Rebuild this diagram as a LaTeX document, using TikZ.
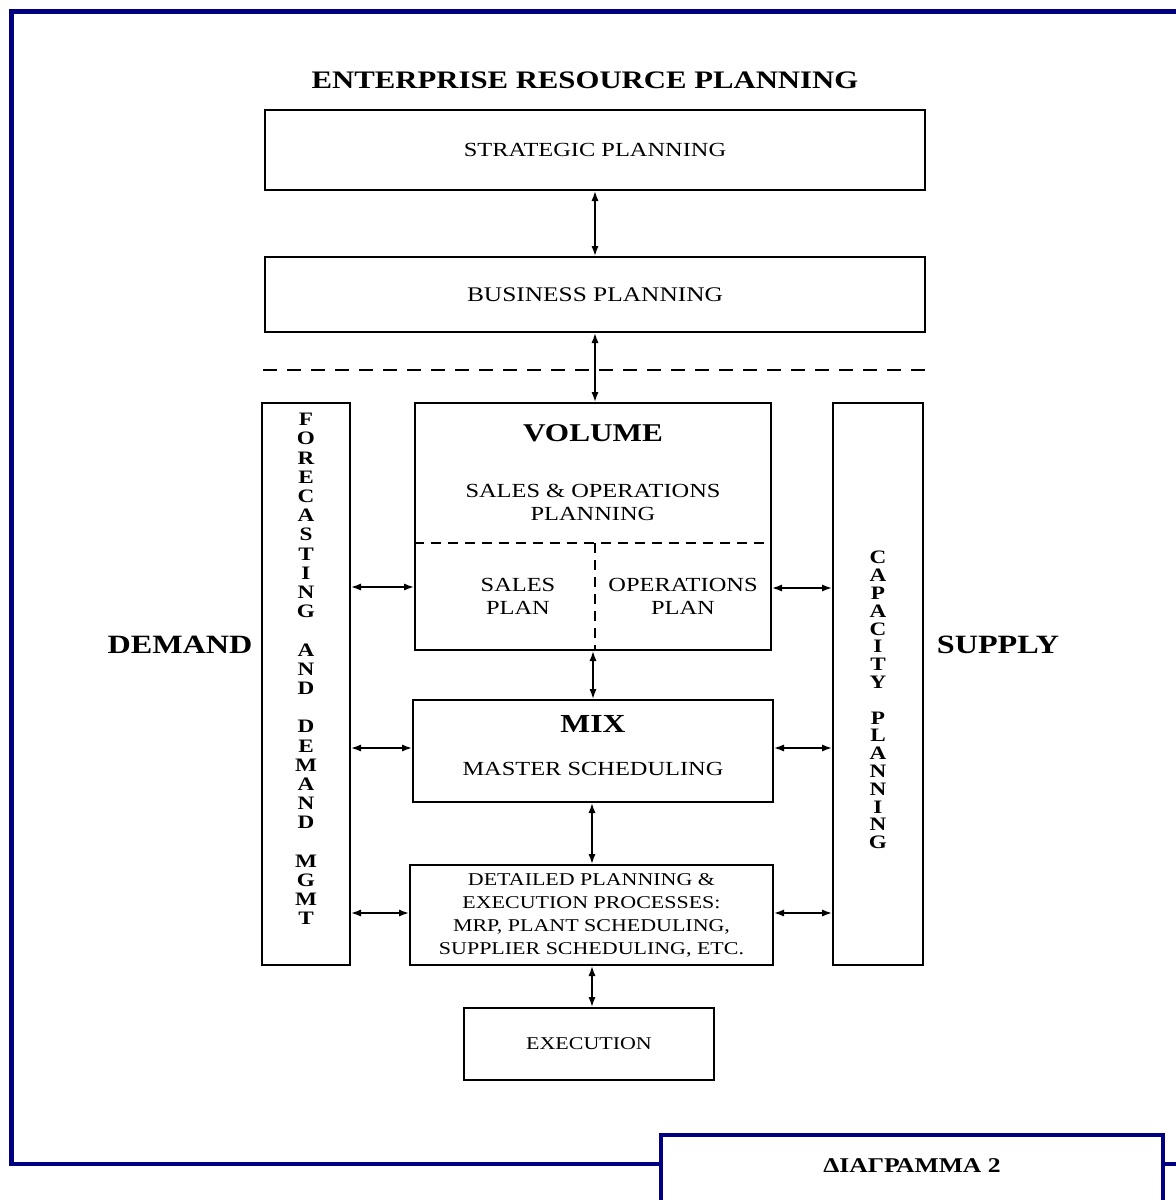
\documentclass[tikz,border=0pt]{standalone}
\usepackage{fontspec}
\setmainfont[FakeStretch=1.22]{Liberation Serif}
\usetikzlibrary{arrows.meta}
\definecolor{frameblue}{RGB}{0,0,128}

\begin{document}
\begin{tikzpicture}[x=0.5pt, y=-0.5pt, line width=1pt,
    box/.style = {draw, inner sep=0pt, align=center},
    txt/.style = {inner sep=0pt, align=center, font=\fontsize{10}{11.5}\selectfont},
    head/.style = {inner sep=0pt, font=\fontsize{12.6}{14}\selectfont\bfseries},
    col/.style = {inner sep=0pt, align=center, font=\fontsize{9.5}{9.6}\selectfont\bfseries},
    link/.style = {line width=0.8pt, {Latex[length=5pt,width=3.6pt]}-{Latex[length=5pt,width=3.6pt]}}]
    \useasboundingbox (0,0) rectangle (1176,1200);
    % outer frame and caption
    \draw[frameblue, line width=2.3pt] (1176,11.5) -- (11.5,11.5) -- (11.5,1164) -- (661,1164);
    \draw[frameblue, line width=2.3pt] (1163,1164) -- (1176,1164);
    \draw[frameblue, line width=2.3pt] (661,1220) -- (661,1135) -- (1163,1135) -- (1163,1220);
    \node[inner sep=0pt, font=\fontsize{10.5}{12}\selectfont\bfseries] (cap) at (912,1166) {ΔΙΑΓΡΑΜΜΑ 2};

    \node[head] (erp) at (585,80) {ENTERPRISE RESOURCE PLANNING};
    \node[box, minimum width=330pt, minimum height=40pt, txt] (strat) at (595,150) {STRATEGIC PLANNING};
    \node[box, minimum width=330pt, minimum height=37.5pt, txt, font=\fontsize{10.4}{12}\selectfont] (bus) at (595,294.5) {BUSINESS PLANNING};
    \draw[dashed, dash pattern=on 7pt off 5pt] (263,370) -- (928,370);

    % volume box
    \node[box, minimum width=178pt, minimum height=123.5pt] (vol) at (593,526.5) {};
    \node[head, font=\fontsize{12.8}{14}\selectfont\bfseries] (voltitle) at (593,433) {VOLUME};
    \node[txt] (sop) at (593,502) {SALES \& OPERATIONS\\PLANNING};
    \draw[dashed, dash pattern=on 5pt off 3.5pt] (vol.west |- 0,543) -- (vol.east |- 0,543);
    \draw[dashed, dash pattern=on 5pt off 3.5pt] (595,543) -- (vol.south -| 595,0);
    \node[txt] (salesplan) at (518,596) {SALES\\PLAN};
    \node[txt] (opsplan) at (683,596) {OPERATIONS\\PLAN};

    % side columns
    \node[box, minimum width=44pt, minimum height=281pt] (fore) at (306,684) {};
    \node[col] (foretxt) at (306,669) {F\\O\\R\\E\\C\\A\\S\\T\\I\\N\\G\\[9.6pt]A\\N\\D\\[9.6pt]D\\E\\M\\A\\N\\D\\[9.6pt]M\\G\\M\\T};
    \node[box, minimum width=45pt, minimum height=281pt] (capa) at (878,684) {};
    \node[col, font=\fontsize{9.5}{8.9}\selectfont\bfseries] (capatxt) at (878,700) {C\\A\\P\\A\\C\\I\\T\\Y\\[8.9pt]P\\L\\A\\N\\N\\I\\N\\G};
    \node[head, font=\fontsize{13.2}{15}\selectfont\bfseries] (demand) at (180,645) {DEMAND};
    \node[head, font=\fontsize{13.2}{15}\selectfont\bfseries] (supply) at (998,645) {SUPPLY};

    % mix, detail, execution
    \node[box, minimum width=180pt, minimum height=51pt] (mix) at (593,751) {};
    \node[head, font=\fontsize{13}{14}\selectfont\bfseries] (mixtitle) at (593,724) {MIX};
    \node[txt] (ms) at (593,769) {MASTER SCHEDULING};
    \node[box, minimum width=181.5pt, minimum height=50pt, txt, font=\fontsize{9}{11.5}\selectfont] (detail) at (591.5,915)
        {DETAILED PLANNING \&\\EXECUTION PROCESSES:\\MRP, PLANT SCHEDULING,\\SUPPLIER SCHEDULING, ETC.};
    \node[box, minimum width=125pt, minimum height=36pt, txt, font=\fontsize{9}{11}\selectfont] (exec) at (589,1044) {EXECUTION};

    % vertical links
    \draw[link] (strat.south) -- (bus.north);
    \draw[link] (bus.south) -- (bus.south |- vol.north);
    \draw[link] (vol.south) -- (mix.north);
    \draw[link] (592,0 |- mix.south) -- (592,0 |- detail.north);
    \draw[link] (592,0 |- detail.south) -- (592,0 |- exec.north);

    % side links
    \draw[link] (fore.east |- 0,587) -- (vol.west |- 0,587);
    \draw[link] (fore.east |- 0,748) -- (mix.west |- 0,748);
    \draw[link] (fore.east |- 0,913) -- (detail.west |- 0,913);
    \draw[link] (vol.east |- 0,588) -- (capa.west |- 0,588);
    \draw[link] (mix.east |- 0,748) -- (capa.west |- 0,748);
    \draw[link] (detail.east |- 0,913) -- (capa.west |- 0,913);
\end{tikzpicture}
\end{document}
